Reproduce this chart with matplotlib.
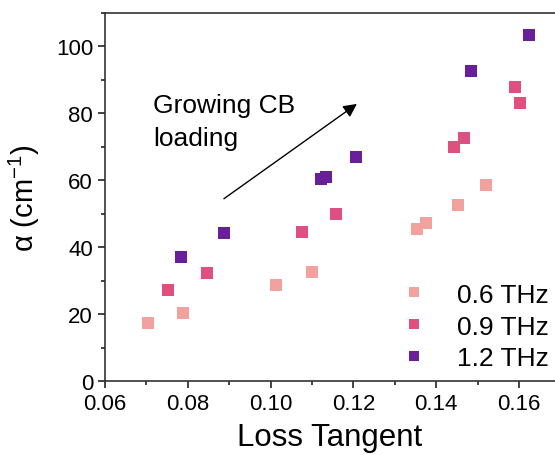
import matplotlib
matplotlib.use("Agg")
import matplotlib.pyplot as plt
from matplotlib.ticker import MultipleLocator

plt.rcParams['font.family'] = ['Liberation Sans', 'DejaVu Sans']
plt.rcParams['mathtext.fontset'] = 'custom'
plt.rcParams['mathtext.rm'] = 'Liberation Sans'
plt.rcParams['mathtext.it'] = 'Liberation Sans'

labels = ["0.6 THz", "0.9 THz", "1.2 THz"]
colors = ["#F2A29E", "#E0507F", "#6A1F9A"]

x_06 = [0.0704, 0.0788, 0.1014, 0.1099, 0.1354, 0.1376, 0.1453, 0.1520]
y_06 = [17.3, 20.3, 28.7, 32.5, 45.4, 47.2, 52.5, 58.5]

x_09 = [0.0752, 0.0846, 0.1077, 0.1159, 0.1443, 0.1467, 0.1590, 0.1602]
y_09 = [27.2, 32.2, 44.5, 49.9, 69.9, 72.5, 88.0, 83.0]

x_12 = [0.0783, 0.0887, 0.1123, 0.1133, 0.1207, 0.1484, 0.1624]
y_12 = [37.0, 44.2, 60.3, 61.0, 66.9, 92.8, 103.3]

xs = [x_06, x_09, x_12]
ys = [y_06, y_09, y_12]

fig = plt.figure(figsize=(5.55, 4.56), dpi=100)
ax = fig.add_axes([0.189, 0.1623, 0.811, 0.807])

for x, y, c, l in zip(xs, ys, colors, labels):
    ax.plot(x, y, linestyle='none', marker='s', markersize=8, color=c,
            markeredgewidth=0, label=l)

ax.set_xlim(0.06, 0.1687)
ax.set_ylim(0, 110)
ax.xaxis.set_minor_locator(MultipleLocator(0.01))
ax.yaxis.set_major_locator(MultipleLocator(20))
ax.yaxis.set_minor_locator(MultipleLocator(10))
ax.set_xticks([0.06, 0.08, 0.10, 0.12, 0.14, 0.16])
ax.set_xticklabels(["0.06", "0.08", "0.10", "0.12", "0.14", "0.16"])

ax.tick_params(which='major', direction='out', length=5, width=1.2,
               labelsize=16, colors='#222222', labelcolor='black')
ax.tick_params(which='minor', direction='out', length=3, width=1.2,
               colors='#222222')
ax.tick_params(top=False, right=False, which='both')

for s in ['left', 'bottom', 'top']:
    ax.spines[s].set_linewidth(1.2)
    ax.spines[s].set_color('#333333')
ax.spines['right'].set_visible(False)

ax.set_xlabel("Loss Tangent", fontsize=22.5, labelpad=6)
ax.set_ylabel("\u03b1 (cm$^{\u22121}$)", fontsize=21, labelpad=10)

ax.annotate("", xy=(0.1214, 83.3), xytext=(0.0882, 54.0),
            arrowprops=dict(arrowstyle='-|>', color='black', lw=1.0,
                            mutation_scale=20))
ax.text(0.0716, 86.0, "Growing CB\nloading", fontsize=19,
        ha='left', va='top', linespacing=1.45)

ax.legend(loc='lower right', frameon=False, fontsize=19,
          handletextpad=1.2, labelspacing=0.3, borderaxespad=0.0,
          handlelength=0.8, markerscale=0.9, bbox_to_anchor=(1.009, 0.0))

fig.savefig("out.png", dpi=100)
